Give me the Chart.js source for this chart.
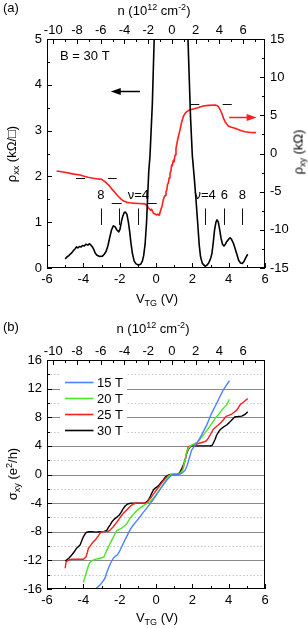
<!DOCTYPE html>
<html><head><meta charset="utf-8">
<script src="https://cdn.jsdelivr.net/npm/chart.js@4.4.1/dist/chart.umd.min.js"></script>
<style>
html,body{margin:0;padding:0;background:#fff;}
body{width:308px;height:628px;position:relative;overflow:hidden;font-family:"Liberation Sans",Arial,sans-serif;color:#000;}
canvas{position:absolute;left:0;}
#ca{top:0;}
#cb{top:310px;}
.t{position:absolute;font-size:13px;line-height:13px;white-space:nowrap;transform:translate(-50%,-50%);}
.rot{transform:translate(-50%,-50%) rotate(-90deg);}
.pl{position:absolute;font-size:13px;line-height:13px;}
sub{font-size:9px;vertical-align:-3px;line-height:0;}
sup{font-size:9px;vertical-align:5px;line-height:0;}
</style></head>
<body>
<canvas id="ca" width="308" height="310"></canvas>
<canvas id="cb" width="308" height="318"></canvas>
<div class="pl" style="left:3px;top:1px;">(a)</div>
<div class="t" style="left:154px;top:10px;">n (10<sup>12</sup> cm<sup>-2</sup>)</div>
<div class="t rot" style="left:11px;top:154px;">ρ<sub>xx</sub> (kΩ/□)</div>
<div class="t rot" style="left:298px;top:152px;">ρ<sub>xy</sub> (kΩ)</div>
<div class="t" style="left:157px;top:298px;">V<sub>TG</sub> (V)</div>
<div class="pl" style="left:3px;top:320px;">(b)</div>
<div class="t" style="left:153px;top:328px;">n (10<sup>12</sup> cm<sup>-2</sup>)</div>
<div class="t rot" style="left:12px;top:474px;">σ<sub>xy</sub> (e<sup>2</sup>/h)</div>
<div class="t" style="left:157px;top:617px;">V<sub>TG</sub> (V)</div>
<script>
// ---------- tick labels ----------
const vtgTicks = [-6,-4,-2,0,2,4,6];
const vtgMinor = [-5,-3,-1,1,3,5];
const nTicks = [-10,-8,-6,-4,-2,0,2,4,6];
const nMinor = [-9,-7,-5,-3,-1,1,3,5,7];
const rhoXXTicks = [0,1,2,3,4,5];
const rhoXXMinor = [0.5,1.5,2.5,3.5,4.5];
const rhoXYTicks = [-15,-10,-5,0,5,10,15];
const rhoXYMinor = [-12.5,-7.5,-2.5,2.5,7.5,12.5];
const sigmaTicks = [-16,-12,-8,-4,0,4,8,12,16];
const sigmaMinor = [-14,-10,-6,-2,2,6,10,14];
// charge neutrality point and density per volt for the top axis
const V_CNP = 0.88;
const N_PER_V = 1.53;

// ---------- panel (a): B = 30 T ----------
const rhoXX = [[-5.0,0.2],[-4.9,0.24],[-4.8,0.27],[-4.7,0.31],[-4.64,0.33],[-4.55,0.38],[-4.45,0.42],[-4.38,0.46],[-4.3,0.44],[-4.2,0.47],[-4.12,0.46],[-4.05,0.49],[-3.95,0.48],[-3.85,0.52],[-3.75,0.50],[-3.67,0.53],[-3.6,0.51],[-3.5,0.46],[-3.42,0.40],[-3.35,0.33],[-3.25,0.28],[-3.1,0.25],[-2.95,0.26],[-2.85,0.30],[-2.75,0.36],[-2.65,0.48],[-2.55,0.66],[-2.45,0.83],[-2.35,0.92],[-2.25,0.90],[-2.15,0.83],[-2.05,0.79],[-1.98,0.85],[-1.9,1.02],[-1.83,1.13],[-1.75,1.21],[-1.68,1.22],[-1.6,1.17],[-1.52,1.0],[-1.45,0.8],[-1.38,0.55],[-1.3,0.32],[-1.2,0.15],[-1.1,0.09],[-0.97,0.065],[-0.85,0.08],[-0.75,0.15],[-0.68,0.27],[-0.6,0.52],[-0.52,1.0],[-0.46,1.55],[-0.4,2.1],[-0.33,2.45],[-0.2,3.6],[-0.1,5.0],[0.0,6.0],[0.85,9.0],[1.65,6.3],[1.76,5.0],[1.9,3.3],[2.0,2.45],[2.1,2.0],[2.2,1.5],[2.3,0.95],[2.38,0.5],[2.45,0.25],[2.55,0.1],[2.7,0.04],[2.8,0.06],[2.9,0.11],[3.0,0.2],[3.08,0.32],[3.15,0.55],[3.22,0.82],[3.3,1.0],[3.36,1.05],[3.43,1.0],[3.5,0.85],[3.58,0.65],[3.66,0.52],[3.74,0.48],[3.82,0.52],[3.9,0.58],[4.0,0.63],[4.08,0.66],[4.15,0.63],[4.25,0.55],[4.35,0.43],[4.45,0.3],[4.55,0.17],[4.65,0.11],[4.75,0.1],[4.85,0.15],[4.95,0.23],[5.05,0.3]];
const rhoXY = [[-5.47,-2.29],[-5.2,-2.4],[-4.95,-2.5],[-4.73,-2.6],[-4.5,-2.7],[-4.18,-2.82],[-4.0,-2.95],[-3.75,-3.1],[-3.45,-3.25],[-3.2,-3.33],[-2.99,-3.38],[-2.81,-3.69],[-2.62,-4.1],[-2.45,-4.6],[-2.26,-5.1],[-2.08,-5.6],[-1.89,-6.05],[-1.75,-6.25],[-1.6,-6.4],[-1.45,-6.45],[-1.25,-6.5],[-0.95,-6.55],[-0.61,-6.6],[-0.5,-6.8],[-0.42,-7.1],[-0.3,-7.45],[-0.24,-7.3],[-0.15,-7.8],[0.04,-8.05],[0.1,-7.95],[0.18,-8.1],[0.26,-7.4],[0.33,-6.9],[0.4,-6.1],[0.45,-5.7],[0.5,-5.5],[0.55,-5.0],[0.59,-4.8],[0.64,-4.0],[0.68,-3.9],[0.72,-3.2],[0.77,-2.6],[0.82,-2.3],[0.86,-1.5],[0.9,-1.6],[0.95,-0.9],[0.99,-1.1],[1.05,-0.2],[1.1,0.68],[1.2,1.9],[1.32,3.08],[1.4,4.0],[1.5,4.82],[1.6,5.25],[1.69,5.48],[1.85,5.7],[2.05,5.83],[2.3,6.0],[2.6,6.22],[2.9,6.3],[3.25,6.35],[3.35,6.3],[3.43,6.15],[3.52,5.8],[3.62,5.27],[3.72,4.6],[3.8,4.17],[3.9,3.85],[3.98,3.6],[4.15,3.45],[4.35,3.3],[4.59,3.08],[4.75,2.95],[4.9,2.86],[5.2,2.76],[5.5,2.73]];
// quantized plateau markers on rho_xy: [V start, V end, level kOhm]
const rhoXYDashes = [[-4.4,-3.9,-3.23],[-2.64,-2.16,-3.23],[-2.44,-1.89,-6.45],[-0.44,0.04,-6.45],[1.87,2.38,6.45],[3.67,4.17,6.45]];
// filling factor markers on rho_xx
const nuMarkV = [-3.03,-2.04,-0.97,2.70,3.76,4.75];
const nuLabels = ['8','','ν=4','ν=4','6','8'];
const nuMarkRange = [0.94,1.3];
const nuLabelLevel = 1.59;
const fieldLabel = 'B = 30 T';

// ---------- panel (b): sigma_xy ----------
const seriesLabels = ['15 T','20 T','25 T','30 T'];
const seriesColors = ['#4a82ff','#4ee62a','#ff1e1e','#000000'];
const sxy15T = [[-3.3,-15.9],[-3.2,-15.7],[-3.08,-15.45],[-2.95,-15.0],[-2.81,-14.5],[-2.72,-13.8],[-2.62,-13.1],[-2.5,-12.4],[-2.35,-11.7],[-2.25,-11.45],[-2.13,-11.25],[-2.0,-10.7],[-1.89,-10.1],[-1.7,-9.1],[-1.52,-8.2],[-1.4,-7.6],[-1.25,-7.06],[-1.05,-6.45],[-0.88,-5.9],[-0.7,-5.3],[-0.51,-4.7],[-0.33,-4.1],[-0.15,-3.5],[0.03,-2.8],[0.22,-2.1],[0.4,-1.45],[0.59,-0.8],[0.75,-0.35],[0.86,-0.1],[1.0,0],[1.32,0.05],[1.45,0.25],[1.6,0.6],[1.72,1.3],[1.8,2.0],[1.87,2.6],[1.96,3.4],[2.1,3.9],[2.24,4.4],[2.38,4.95],[2.51,5.5],[2.65,6.2],[2.79,6.9],[2.92,7.7],[3.06,8.55],[3.25,9.5],[3.43,10.4],[3.56,11.1],[3.7,11.8],[3.87,12.45],[4.04,13.1]];
const sxy20T = [[-4.0,-15.1],[-3.92,-14.4],[-3.85,-13.8],[-3.75,-13.0],[-3.67,-12.4],[-3.55,-12.1],[-3.45,-11.95],[-3.25,-11.8],[-3.08,-11.7],[-2.95,-11.6],[-2.86,-11.5],[-2.78,-11.0],[-2.71,-10.6],[-2.58,-9.9],[-2.44,-9.2],[-2.3,-8.5],[-2.16,-7.8],[-2.0,-7.65],[-1.89,-7.5],[-1.75,-7.2],[-1.61,-6.9],[-1.5,-6.4],[-1.39,-5.97],[-1.2,-5.45],[-1.06,-5.04],[-0.88,-4.7],[-0.7,-4.35],[-0.5,-4.05],[-0.33,-3.8],[-0.15,-3.3],[0.04,-2.7],[0.22,-2.05],[0.4,-1.4],[0.55,-0.75],[0.68,-0.3],[0.8,-0.05],[0.9,0],[1.23,0],[1.35,0.2],[1.47,0.6],[1.58,1.8],[1.69,3.17],[1.8,3.7],[1.96,4.1],[2.15,4.35],[2.33,4.6],[2.45,5.0],[2.6,5.5],[2.75,6.0],[2.88,6.45],[3.0,6.9],[3.15,7.4],[3.25,7.8],[3.34,8.1],[3.48,8.5],[3.62,9.0],[3.75,9.35],[3.89,9.7],[3.96,10.1],[4.04,10.5]];
const sxy25T = [[-5.0,-13.1],[-4.95,-12.2],[-4.8,-11.95],[-4.64,-11.85],[-4.3,-11.85],[-4.0,-11.85],[-3.85,-11.5],[-3.78,-10.9],[-3.72,-10.3],[-3.6,-9.9],[-3.45,-9.4],[-3.3,-9.0],[-3.18,-8.6],[-3.05,-8.1],[-2.99,-8.0],[-2.62,-7.95],[-2.5,-7.7],[-2.35,-7.3],[-2.2,-6.8],[-2.07,-6.36],[-1.95,-5.9],[-1.8,-5.43],[-1.65,-5.05],[-1.52,-4.73],[-1.4,-4.4],[-1.28,-4.17],[-1.1,-4.0],[-0.51,-4.0],[-0.4,-3.6],[-0.24,-3.1],[-0.1,-2.6],[0.04,-2.1],[0.2,-1.6],[0.4,-0.9],[0.55,-0.45],[0.68,-0.2],[0.8,-0.05],[0.9,0],[1.23,0],[1.35,0.3],[1.5,0.9],[1.6,2.0],[1.68,3.0],[1.78,3.87],[1.9,4.0],[2.05,4.1],[2.25,4.25],[2.42,4.4],[2.55,4.5],[2.7,4.6],[2.8,4.8],[2.88,5.08],[3.0,5.6],[3.15,6.33],[3.28,6.6],[3.43,6.92],[3.55,7.2],[3.7,7.62],[3.8,7.95],[3.89,8.17],[4.03,8.3],[4.17,8.45],[4.3,8.7],[4.44,9.0],[4.55,9.4],[4.62,9.7],[4.75,10.0],[4.9,10.3],[5.05,10.6]];
const sxy30T = [[-5.0,-12.05],[-4.95,-12.0],[-4.8,-11.7],[-4.64,-11.25],[-4.5,-10.8],[-4.37,-10.3],[-4.18,-9.85],[-4.0,-8.7],[-3.85,-8.1],[-3.7,-8.0],[-3.54,-8.0],[-3.3,-8.05],[-3.08,-8.0],[-2.85,-7.95],[-2.71,-7.8],[-2.62,-7.4],[-2.53,-7.06],[-2.42,-6.6],[-2.31,-6.27],[-2.15,-5.95],[-2.02,-5.66],[-1.92,-5.3],[-1.83,-4.87],[-1.7,-4.4],[-1.56,-4.12],[-1.38,-4.0],[-1.0,-4.0],[-0.61,-4.0],[-0.5,-3.8],[-0.42,-3.56],[-0.3,-3.0],[-0.24,-2.63],[-0.15,-2.2],[-0.06,-1.93],[0.13,-1.6],[0.25,-1.2],[0.4,-0.77],[0.5,-0.4],[0.59,-0.21],[0.7,-0.05],[0.8,0],[1.0,0],[1.14,0],[1.25,0.1],[1.32,0.37],[1.45,1.0],[1.54,1.53],[1.62,2.2],[1.69,3.0],[1.78,3.5],[1.87,3.87],[2.0,4.0],[2.15,4.0],[2.5,4.0],[2.97,4.0],[3.08,4.05],[3.15,4.36],[3.25,4.9],[3.34,5.52],[3.48,6.1],[3.62,6.45],[3.75,6.7],[3.89,6.92],[4.03,7.25],[4.17,7.62],[4.35,8.08],[4.5,8.1],[4.72,8.15],[4.9,8.4],[5.05,8.78]];
const sxySeries = [sxy15T, sxy20T, sxy25T, sxy30T];

// ---------- helpers ----------
const FONT = '"Liberation Sans", Arial, sans-serif';
const toXY = arr => arr.map(p => ({x:p[0], y:p[1]}));
const setTicks = list => (s => { s.ticks = list.map(v => ({value:v})); });
const fixW = w => (s => { s.width = w; });
const fixH = h => (s => { s.height = h; });
const nOfV = v => (v - V_CNP) * N_PER_V;

function axisBase(extra){
  return Object.assign({
    type:'linear',
    grid:{display:false, drawTicks:false},
    border:{display:false},
    ticks:{color:'#000', font:{family:FONT, size:13}, autoSkip:false, maxRotation:0, padding:4}
  }, extra);
}

function drawInwardTicks(chart, specs){
  const ctx = chart.ctx, a = chart.chartArea;
  ctx.save();
  ctx.strokeStyle = '#000'; ctx.lineWidth = 1;
  ctx.beginPath();
  specs.forEach(sp => {
    const sc = chart.scales[sp.id];
    const mk = (v, len) => {
      if (sp.side === 'bottom' || sp.side === 'top') {
        const p = Math.round(sc.getPixelForValue(v)) + 0.5;
        if (p < a.left - 1 || p > a.right + 1) return;
        const y0 = sp.side === 'bottom' ? Math.round(a.bottom) : Math.round(a.top);
        const dir = sp.side === 'bottom' ? -1 : 1;
        ctx.moveTo(p, y0); ctx.lineTo(p, y0 + dir*len);
      } else {
        const p = Math.round(sc.getPixelForValue(v)) + 0.5;
        if (p < a.top - 1 || p > a.bottom + 1) return;
        const x0 = sp.side === 'left' ? Math.round(a.left) : Math.round(a.right);
        const dir = sp.side === 'left' ? 1 : -1;
        ctx.moveTo(x0, p); ctx.lineTo(x0 + dir*len, p);
      }
    };
    sp.major.forEach(v => mk(v, 5));
    sp.minor.forEach(v => mk(v, 3));
  });
  ctx.stroke();
  ctx.strokeRect(Math.round(a.left)+0.5, Math.round(a.top)+0.5, Math.round(a.right)-Math.round(a.left)-1, Math.round(a.bottom)-Math.round(a.top)-1);
  ctx.restore();
}

function arrow(ctx, x1, y, x2, color){
  const dir = Math.sign(x2 - x1);
  ctx.save();
  ctx.strokeStyle = color; ctx.fillStyle = color; ctx.lineWidth = 1.5;
  ctx.beginPath(); ctx.moveTo(x1, y); ctx.lineTo(x2 - dir*8, y); ctx.stroke();
  ctx.beginPath(); ctx.moveTo(x2, y); ctx.lineTo(x2 - dir*10, y - 3.5); ctx.lineTo(x2 - dir*10, y + 3.5); ctx.closePath(); ctx.fill();
  ctx.restore();
}

// ---------- panel (a) chart ----------
const panelAPlugin = {
  id:'panelA',
  afterDatasetsDraw(chart){
    const ctx = chart.ctx, x = chart.scales.x, y = chart.scales.y, y2 = chart.scales.y2;
    ctx.save();
    ctx.strokeStyle = '#111'; ctx.lineWidth = 1;
    ctx.beginPath();
    rhoXYDashes.forEach(d => {
      const py = Math.round(y2.getPixelForValue(d[2])) + 0.5;
      ctx.moveTo(x.getPixelForValue(d[0]), py); ctx.lineTo(x.getPixelForValue(d[1]), py);
    });
    nuMarkV.forEach(v => {
      const px = Math.round(x.getPixelForValue(v)) + 0.5;
      ctx.moveTo(px, y.getPixelForValue(nuMarkRange[0])); ctx.lineTo(px, y.getPixelForValue(nuMarkRange[1]));
    });
    ctx.stroke();
    ctx.fillStyle = '#000';
    ctx.font = '13px ' + FONT;
    ctx.textAlign = 'center'; ctx.textBaseline = 'middle';
    nuMarkV.forEach((v, i) => {
      if (nuLabels[i]) ctx.fillText(nuLabels[i], x.getPixelForValue(v), y.getPixelForValue(nuLabelLevel));
    });
    ctx.textAlign = 'left';
    ctx.fillText(fieldLabel, x.getPixelForValue(-5.28), y.getPixelForValue(4.63));
    ctx.restore();
    arrow(ctx, x.getPixelForValue(-0.88), Math.round(y.getPixelForValue(3.86)) + 0.5, x.getPixelForValue(-2.49), '#000');
    arrow(ctx, x.getPixelForValue(4.03), Math.round(y2.getPixelForValue(4.74)) + 0.5, x.getPixelForValue(5.54), '#ff1e1e');
  },
  afterDraw(chart){
    drawInwardTicks(chart, [
      {id:'x', side:'bottom', major:vtgTicks, minor:vtgMinor},
      {id:'xn', side:'top', major:nTicks, minor:nMinor},
      {id:'y', side:'left', major:rhoXXTicks, minor:rhoXXMinor},
      {id:'y2', side:'right', major:rhoXYTicks, minor:rhoXYMinor}
    ]);
  }
};

new Chart(document.getElementById('ca'), {
  type:'line',
  data:{datasets:[
    {label:'ρxx', data:toXY(rhoXX), yAxisID:'y', borderColor:'#000', borderWidth:1.6, pointRadius:0, tension:0, borderJoinStyle:'round'},
    {label:'ρxy', data:toXY(rhoXY), yAxisID:'y2', borderColor:'#ff1e1e', borderWidth:1.6, pointRadius:0, tension:0, borderJoinStyle:'round'}
  ]},
  options:{
    responsive:false, animation:false, devicePixelRatio:1,
    layout:{padding:0},
    plugins:{legend:{display:false}, tooltip:{enabled:false}},
    scales:{
      x: axisBase({position:'bottom', min:-6, max:6, afterBuildTicks:setTicks(vtgTicks), afterFit:fixH(42)}),
      xn: axisBase({position:'top', min:nOfV(-6), max:nOfV(6), afterBuildTicks:setTicks(nTicks), afterFit:fixH(39),
        ticks:{color:'#000', font:{family:FONT, size:13}, autoSkip:false, maxRotation:0, padding:1}}),
      y: axisBase({position:'left', min:0, max:5, afterBuildTicks:setTicks(rhoXXTicks), afterFit:fixW(47),
        ticks:{color:'#000', font:{family:FONT, size:13}, autoSkip:false, padding:5}}),
      y2: axisBase({position:'right', min:-15, max:15, afterBuildTicks:setTicks(rhoXYTicks), afterFit:fixW(43),
        ticks:{color:'#000', font:{family:FONT, size:13}, autoSkip:false, padding:5}})
    }
  },
  plugins:[panelAPlugin]
});

// ---------- panel (b) chart ----------
const panelBPlugin = {
  id:'panelB',
  beforeDatasetsDraw(chart){
    const ctx = chart.ctx, a = chart.chartArea, y = chart.scales.y;
    ctx.save();
    ctx.lineWidth = 1;
    ctx.strokeStyle = '#8a8a8a';
    ctx.beginPath();
    sigmaTicks.forEach(v => {
      if (v <= -16 || v >= 16) return;
      const py = Math.round(y.getPixelForValue(v)) + 0.5;
      ctx.moveTo(a.left, py); ctx.lineTo(a.right, py);
    });
    ctx.stroke();
    ctx.strokeStyle = '#c4c4c4';
    ctx.setLineDash([1.5, 2]);
    ctx.beginPath();
    sigmaMinor.forEach(v => {
      const py = Math.round(y.getPixelForValue(v)) + 0.5;
      ctx.moveTo(a.left, py); ctx.lineTo(a.right, py);
    });
    ctx.stroke();
    ctx.setLineDash([]);
    // legend background
    ctx.fillStyle = '#fff';
    ctx.fillRect(a.left + 13, a.top + 8, 67, 70);
    ctx.restore();
  },
  afterDraw(chart){
    const ctx = chart.ctx, a = chart.chartArea;
    ctx.save();
    ctx.font = '13px ' + FONT;
    ctx.textAlign = 'left'; ctx.textBaseline = 'middle';
    seriesLabels.forEach((lab, i) => {
      const py = Math.round(a.top + 21.7 + i*16.1) + 0.5;
      ctx.strokeStyle = seriesColors[i]; ctx.lineWidth = 1.6;
      ctx.beginPath(); ctx.moveTo(a.left + 18, py); ctx.lineTo(a.left + 46.5, py); ctx.stroke();
      ctx.fillStyle = '#000';
      ctx.fillText(lab, a.left + 50, py + 0.5);
    });
    ctx.restore();
    drawInwardTicks(chart, [
      {id:'x', side:'bottom', major:vtgTicks, minor:vtgMinor},
      {id:'xn', side:'top', major:nTicks, minor:nMinor},
      {id:'y', side:'left', major:sigmaTicks, minor:sigmaMinor}
    ]);
  }
};

new Chart(document.getElementById('cb'), {
  type:'line',
  data:{datasets: sxySeries.map((s, i) => ({
    label: seriesLabels[i], data: toXY(s), borderColor: seriesColors[i], borderWidth:1.4,
    pointRadius:0, tension:0, borderJoinStyle:'round'
  }))},
  options:{
    responsive:false, animation:false, devicePixelRatio:1,
    layout:{padding:{left:0, right:43, top:0, bottom:0}},
    plugins:{legend:{display:false}, tooltip:{enabled:false}},
    scales:{
      x: axisBase({position:'bottom', min:-6, max:6, afterBuildTicks:setTicks(vtgTicks), afterFit:fixH(39)}),
      xn: axisBase({position:'top', min:nOfV(-6), max:nOfV(6), afterBuildTicks:setTicks(nTicks), afterFit:fixH(50),
        ticks:{color:'#000', font:{family:FONT, size:13}, autoSkip:false, maxRotation:0, padding:1}}),
      y: axisBase({position:'left', min:-16, max:16, afterBuildTicks:setTicks(sigmaTicks), afterFit:fixW(47),
        ticks:{color:'#000', font:{family:FONT, size:13}, autoSkip:false, padding:5}})
    }
  },
  plugins:[panelBPlugin]
});
</script>
</body></html>
